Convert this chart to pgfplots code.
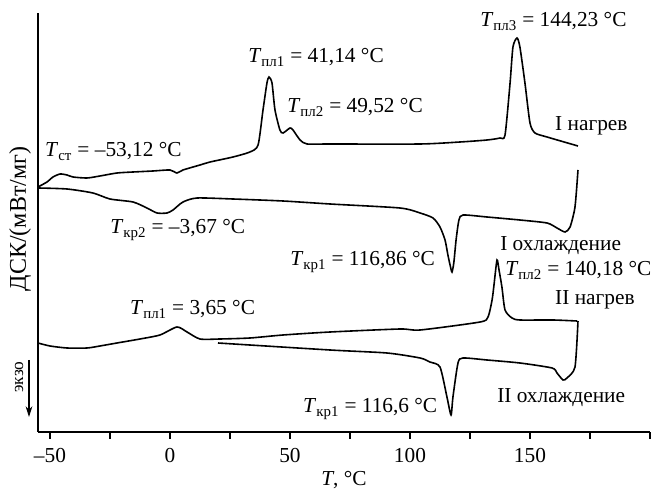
\documentclass[border=0pt]{standalone}
\usepackage{fontspec}
\setmainfont{Liberation Serif}
\usepackage{pgfplots}
\pgfplotsset{compat=1.18}
\usetikzlibrary{arrows.meta}
\newcommand{\Tsub}[1]{\textit{T}\textsubscript{#1}}
\tikzset{
 dsc/.style={black, line width=1.2pt, smooth, tension=0.4, mark=none},
 lbl/.style={anchor=base west, inner sep=0pt},
}
\begin{document}
\fontsize{16}{19}\selectfont
\begin{tikzpicture}[font=\fontsize{16}{19}\selectfont]
\begin{axis}[
 name=ax,
 scale only axis, width=459pt, height=314.25pt,
 xmin=-55, xmax=200, ymin=0, ymax=419,
 axis x line=bottom, axis y line=left,
 axis line style={-, line width=1pt},
 ytick=\empty,
 xtick={-50,-25,...,200},
 xticklabels={–50,,0,,50,,100,,150,,},
 tick align=outside, major tick length=5pt,
 tick style={line width=1pt, black},
 xticklabel style={anchor=base, yshift=-18pt},
 xlabel={\textit{T}, °C},
 xlabel style={at={(axis description cs:0.5,0)}, anchor=base, yshift=-40.5pt},
 clip=false,
]
% I heating
\addplot[dsc] coordinates {(-55,245) (-51.25,250) (-48.75,255) (-45.8,258) (-42.9,257) (-40.4,255) (-34.6,254) (-29.2,256) (-22.1,259) (-15.4,260) (-7.1,261) (0,262) (2.9,259) (5.4,262) (12.5,267) (16.7,270) (26.25,275) (33.3,280) (36.7,287) (38.75,322) (40.4,349) (41.25,355) (42.5,349) (43.75,322) (45.8,302) (47.1,299) (50,304) (51.25,302) (54.2,292) (57.1,288) (66.7,288) (104.2,288) (120.8,290) (132.1,292) (137.5,294) (139.6,297) (141.7,349) (142.9,385) (144.6,394) (145.8,385) (147.9,349) (150,309) (152.1,299) (157.1,295) (170,286)};
% I cooling
\addplot[dsc] coordinates {(-55,244) (-42.9,243) (-32.1,239) (-25,233) (-15.4,230) (-9.6,224) (-5.4,219) (-1.25,219) (1.25,222) (5.4,230) (11.25,234) (26.25,233) (47.1,231) (66.7,228) (95.8,224) (104.2,219) (109.6,214) (112.5,205) (114.6,192) (115.8,177) (116.7,167) (117.5,160) (118.3,170) (119.2,192) (120.4,212) (122.1,217) (132.1,215) (145.8,212) (157.1,209) (161.25,204) (164.6,200) (166.7,205) (168.75,225) (170,262)};
% II heating
\addplot[dsc] coordinates {(-55,89) (-50,86) (-42.9,84) (-34.6,84) (-29.2,86) (-22.1,89) (-12.5,93) (-4.2,97) (2.9,105) (7.1,100) (12.5,93) (20.8,93) (33.3,94) (47.1,97) (66.7,100) (95.8,103) (104.2,102) (129.2,110) (132.5,115) (134.2,132) (135,147) (136.25,172) (137.1,162) (138.3,145) (139.6,122) (142.5,114) (145.8,112) (159.6,112) (169.6,111)};
% II cooling
\addplot[dsc] coordinates {(20,89) (66.7,82) (90.4,79) (104.2,74) (108.3,70) (112.5,65) (115.4,35) (117.1,17) (117.9,35) (120,69) (122.1,74) (132.1,72) (145.8,69) (159.2,64) (161.25,59) (163.75,52) (165.4,54) (168.75,65) (170,111)};

\node[lbl] at (axis cs:-52.1,275) {\Tsub{ст} = –53,12 °C};
\node[lbl] at (axis cs:-25,198) {\Tsub{кр2} = –3,67 °C};
\node[lbl] at (axis cs:32.5,369) {\Tsub{пл1} = 41,14 °C};
\node[lbl] at (axis cs:48.75,319) {\Tsub{пл2} = 49,52 °C};
\node[lbl] at (axis cs:129.2,405) {\Tsub{пл3} = 144,23 °C};
\node[lbl] at (axis cs:160.4,301) {I нагрев};
\node[lbl] at (axis cs:137.5,181) {I охлаждение};
\node[lbl] at (axis cs:50,166) {\Tsub{кр1} = 116,86 °C};
\node[lbl] at (axis cs:139.6,156) {\Tsub{пл2} = 140,18 °C};
\node[lbl] at (axis cs:160.4,127) {II нагрев};
\node[lbl] at (axis cs:-16.7,117) {\Tsub{пл1} = 3,65 °C};
\node[lbl] at (axis cs:136.25,29) {II охлаждение};
\node[lbl] at (axis cs:55.4,19) {\Tsub{кр1} = 116,6 °C};

\node[rotate=90, font=\fontsize{18}{21}\selectfont] at (axis cs:-62.5,213) {ДСК/(мВт/мг)};
\node[rotate=90, font=\fontsize{13}{15}\selectfont] at (axis cs:-62.9,55) {экзо};
\draw[-{Stealth[length=8pt,width=5pt]}, line width=0.8pt] (axis cs:-58.75,72) -- (axis cs:-58.75,15);

\coordinate (bbSW) at (axis cs:-70.83,-61);
\coordinate (bbNE) at (axis cs:200.42,432);
\end{axis}
\pgfresetboundingbox
\path (bbSW) rectangle (bbNE);
\end{tikzpicture}
\end{document}
